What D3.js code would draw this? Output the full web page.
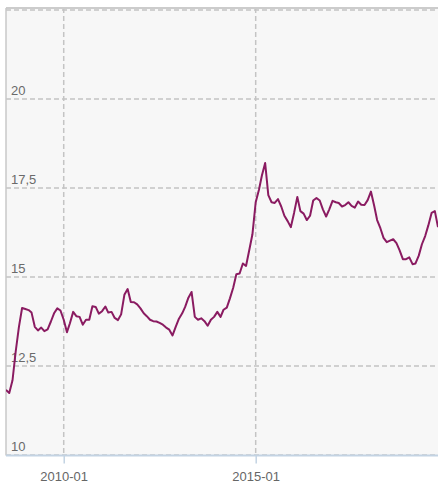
<!DOCTYPE html>
<html><head><meta charset="utf-8">
<script src="https://cdn.jsdelivr.net/npm/d3@7"></script>
<style>
html,body{margin:0;padding:0;background:#fff;}
svg text{font-family:"Liberation Sans",Arial,Helvetica,sans-serif;}
</style></head>
<body>
<svg id="chart" width="438" height="483"></svg>
<script>
// Monthly series starting 2008-07
const startMonth = "2008-07";
const values = [
11.83,11.74,12.1,12.9,13.6,14.13,14.1,14.07,14.0,13.6,
13.5,13.58,13.48,13.53,13.75,13.98,14.12,14.06,13.8,13.45,
13.7,14.02,13.9,13.88,13.66,13.8,13.8,14.18,14.16,13.97,
14.04,14.17,14.0,14.02,13.85,13.79,13.95,14.5,14.66,14.3,
14.29,14.23,14.12,13.98,13.9,13.8,13.76,13.75,13.71,13.66,
13.58,13.52,13.36,13.6,13.83,13.98,14.16,14.42,14.58,13.88,
13.8,13.84,13.76,13.63,13.8,13.88,14.02,13.88,14.08,14.14,
14.4,14.7,15.08,15.1,15.38,15.31,15.76,16.2,17.1,17.45,
17.85,18.2,17.3,17.1,17.08,17.19,16.98,16.72,16.57,16.4,
16.8,17.25,16.85,16.78,16.6,16.72,17.15,17.22,17.15,16.9,
16.7,16.9,17.14,17.1,17.08,16.98,17.02,17.1,17.0,16.95,
17.12,17.03,17.02,17.16,17.4,17.0,16.6,16.37,16.1,15.98,
16.02,16.06,15.95,15.75,15.5,15.5,15.55,15.36,15.38,15.6,
15.92,16.15,16.45,16.8,16.85,16.4
];
const yTicks = [10, 12.5, 15, 17.5, 20, 22.5];
const yTickLabels = ["10", "12,5", "15", "17,5", "20", ""];
const xTicks = ["2010-01", "2015-01"];
const xDomain = ["2008-07", "2019-10"];

(function () {
const parse = d3.timeParse("%Y-%m");
const startDate = parse(startMonth);
const data = values.map((v, i) => ({date: d3.timeMonth.offset(startDate, i), value: v}));

const pL = 6, pR = 438, pT = 8, pB = 455.5;
const svg = d3.select("#chart");

const x = d3.scaleTime().domain(xDomain.map(parse)).range([pL, pR]);
const y = d3.scaleLinear().domain([10, 22.5]).range([455, 10]);

svg.append("rect").attr("x", pL).attr("y", pT).attr("width", pR - pL).attr("height", pB - pT).attr("fill", "#f7f7f7");

const grid = "#c4c4c4";
svg.append("g").selectAll("line").data(yTicks).join("line")
  .attr("x1", pL).attr("x2", pR)
  .attr("y1", d => y(d)).attr("y2", d => y(d))
  .attr("stroke", grid).attr("stroke-width", 1.5).attr("stroke-dasharray", "5,3");
svg.append("g").selectAll("line").data(xTicks).join("line")
  .attr("x1", d => x(parse(d))).attr("x2", d => x(parse(d)))
  .attr("y1", pT).attr("y2", pB)
  .attr("stroke", grid).attr("stroke-width", 1.5).attr("stroke-dasharray", "5,3");

svg.append("line").attr("x1", pL).attr("x2", pR).attr("y1", pT).attr("y2", pT).attr("stroke", "#cccccc").attr("stroke-width", 2);
svg.append("line").attr("x1", pL).attr("x2", pL).attr("y1", pT).attr("y2", pB).attr("stroke", "#c8c8c8").attr("stroke-width", 1.5);

svg.append("g").selectAll("text").data(yTicks.map((t, i) => ({t, l: yTickLabels[i]}))).join("text")
  .attr("x", pL + 5).attr("y", d => y(d.t) - 4)
  .attr("font-size", 13).attr("fill", "#6a6a6a").text(d => d.l);

const xAxis = d3.axisBottom(x).tickValues(xTicks.map(parse)).tickFormat(d3.timeFormat("%Y-%m")).tickSize(8).tickPadding(8);
const gx = svg.append("g").attr("transform", `translate(0,${pB})`).call(xAxis);
gx.select(".domain").attr("stroke", "#c3d3e3").attr("stroke-width", 2).attr("d", `M${pL},0H${pR}`);
gx.selectAll(".tick line").attr("stroke", "#c3d3e3").attr("stroke-width", 1.5);
gx.selectAll(".tick text").attr("font-size", 13).attr("fill", "#666").attr("font-family", "Liberation Sans, Arial, sans-serif");

svg.append("clipPath").attr("id", "clip").append("rect").attr("x", pL).attr("y", pT).attr("width", pR - pL).attr("height", pB - pT);
const line = d3.line().x(d => x(d.date)).y(d => y(d.value));
svg.append("path").datum(data).attr("clip-path", "url(#clip)")
  .attr("fill", "none").attr("stroke", "#8a1b61").attr("stroke-width", 2).attr("stroke-linejoin", "round")
  .attr("d", line);
})();
</script>
</body></html>
